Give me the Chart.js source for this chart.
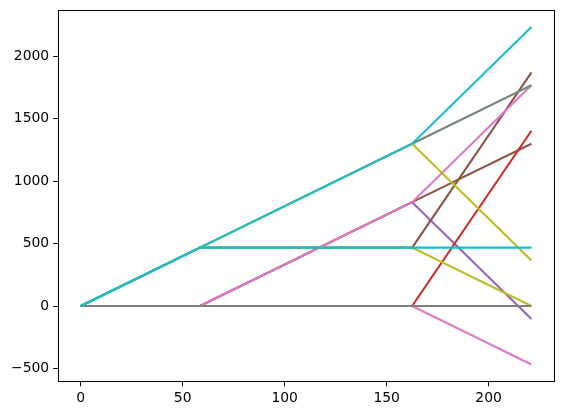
<!DOCTYPE html>
<html>
<head>
<meta charset="utf-8">
<script src="https://cdn.jsdelivr.net/npm/chart.js@4.4.1/dist/chart.umd.min.js"></script>
<style>
  html, body { margin: 0; padding: 0; background: #fff; }
  #wrap { width: 563px; height: 413px; position: relative; }
</style>
</head>
<body>
<div id="wrap"><canvas id="chart"></canvas></div>
<script>
// x positions of the break points
const xValues = [0, 58.5, 162.5, 221];

// y values of each line at those x positions
const cyanTop    = [0, 468, 1300, 2236];
const cyanFlat   = [0, 468, 468, 468];
const grayZero   = [0, 0, 0, 0];
const oliveHigh  = [0, 468, 1300, 364];
const oliveLow   = [0, 468, 468, 0];
const grayGreen  = [0, 468, 1300, 1768];
const pinkHigh   = [0, 0, 832, 1768];
const pinkLow    = [0, 0, 0, -468];
const redSteep   = [0, 0, 0, 1404];
const brownSteep = [0, 468, 468, 1872];
const brownMid   = [0, 0, 832, 1300];
const purpleDown = [0, 0, 832, -104];

const xTicks = [0, 50, 100, 150, 200];
const yTicks = [-500, 0, 500, 1000, 1500, 2000];

// first dataset is drawn on top
const lines = [
  [cyanTop, '#17becf'],
  [cyanFlat, '#17becf'],
  [grayZero, '#7f7f7f'],
  [oliveHigh, '#bcbd22'],
  [oliveLow, '#bcbd22'],
  [grayGreen, '#77877a'],
  [pinkHigh, '#e377c2'],
  [pinkLow, '#e377c2'],
  [redSteep, '#d62728'],
  [brownSteep, '#8c564b'],
  [brownMid, '#8c564b'],
  [purpleDown, '#9467bd']
];

const frame = {
  id: 'frame',
  afterDraw(chart) {
    const a = chart.chartArea, c = chart.ctx;
    c.save();
    c.strokeStyle = '#000';
    c.lineWidth = 1;
    c.strokeRect(Math.round(a.left) + 0.5, Math.round(a.top) + 0.5,
      Math.round(a.right - a.left), Math.round(a.bottom - a.top));
    c.restore();
  }
};

Chart.defaults.color = '#000';
Chart.defaults.font.family = 'DejaVu Sans';
Chart.defaults.font.size = 13.9;

const minus = (v) => String(v).replace('-', '\u2212');

new Chart(document.getElementById('chart'), {
  type: 'line',
  data: {
    datasets: lines.map(([ys, color]) => ({
      data: xValues.map((x, i) => ({ x: x, y: ys[i] })),
      borderColor: color,
      borderWidth: 2.1,
      pointRadius: 0,
      fill: false,
      tension: 0
    }))
  },
  options: {
    responsive: true,
    maintainAspectRatio: false,
    animation: false,
    layout: { padding: { left: 7, right: 9, top: 10, bottom: 2 } },
    plugins: { legend: { display: false }, tooltip: { enabled: false } },
    scales: {
      x: {
        type: 'linear',
        min: -11.05,
        max: 232.05,
        afterBuildTicks: (axis) => { axis.ticks = xTicks.map((v) => ({ value: v })); },
        afterFit: (axis) => { axis.paddingLeft = 0; axis.paddingRight = 0; },
        grid: { drawOnChartArea: false, drawTicks: true, tickLength: 5, color: '#000' },
        border: { display: true, color: '#000' },
        ticks: { padding: 4, maxRotation: 0, callback: minus }
      },
      y: {
        type: 'linear',
        min: -603.2,
        max: 2371.2,
        afterBuildTicks: (axis) => { axis.ticks = yTicks.map((v) => ({ value: v })); },
        afterFit: (axis) => { axis.paddingTop = 0; axis.paddingBottom = 0; },
        grid: { drawOnChartArea: false, drawTicks: true, tickLength: 5, color: '#000' },
        border: { display: true, color: '#000' },
        ticks: { padding: 4, callback: minus }
      }
    }
  },
  plugins: [frame]
});
</script>
</body>
</html>
